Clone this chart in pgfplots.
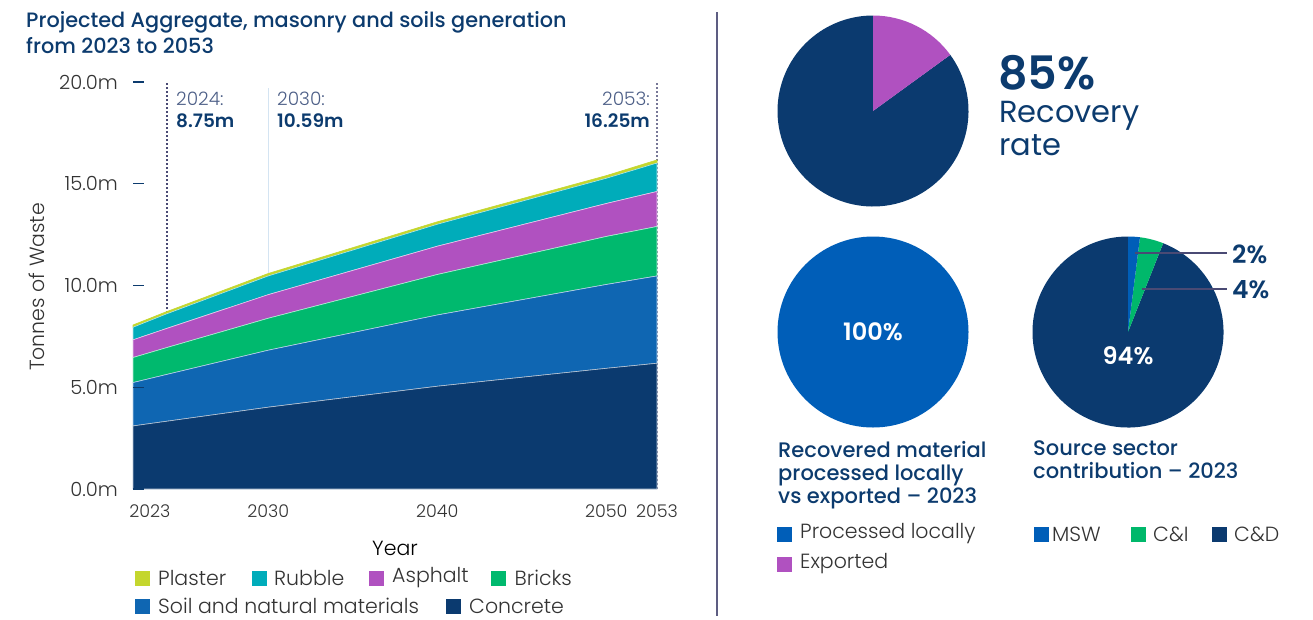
\documentclass[border=0pt]{standalone}
\usepackage{pgfplots}
\usepackage{pgfplotstable}
\pgfplotsset{compat=1.18}
\usepackage{fontspec}
\setmainfont{Poppins}
\newfontfamily\plight{Poppins Light}
\newfontfamily\pmed{Poppins Medium}
\newfontfamily\psemi{Poppins SemiBold}

\definecolor{cConcrete}{HTML}{0B3A6F}
\definecolor{cSoil}{HTML}{0F66B2}
\definecolor{cBricks}{HTML}{00B96E}
\definecolor{cAsphalt}{HTML}{B051C0}
\definecolor{cRubble}{HTML}{00ACBA}
\definecolor{cPlaster}{HTML}{C4D62E}
\definecolor{cNavy}{HTML}{0C3B6E}
\definecolor{cBlue}{HTML}{005EB8}
\definecolor{cGreen}{HTML}{00B86B}
\definecolor{cText}{HTML}{333333}
\definecolor{cSlate}{HTML}{4D5F87}
\definecolor{cDots}{HTML}{4A4A74}
\definecolor{cLineB}{HTML}{C6DBEE}
\definecolor{cDivider}{HTML}{5D5D82}

\pgfplotstableread{
year concrete soil bricks asphalt rubble plaster
2022 3.10 2.13 1.23 0.87 0.62 0.11
2024 3.33 2.30 1.32 0.94 0.72 0.11
2030 4.02 2.80 1.57 1.16 0.92 0.12
2040 5.05 3.50 1.99 1.39 1.08 0.12
2050 5.93 4.12 2.36 1.62 1.24 0.13
2053 6.18 4.29 2.43 1.72 1.40 0.15
}\wastedata

\newcommand{\lgfont}{\plight\fontsize{20.5}{23}\selectfont}
\newcommand{\tkfont}{\plight\fontsize{19.5}{22}\selectfont}
\newcommand{\ttlfont}{\pmed\fontsize{20.8}{24}\selectfont}

\begin{document}
\begin{tikzpicture}[x=1pt,y=1pt]
\useasboundingbox (0,0) rectangle (1313,-619);

% title
\node[anchor=west, inner sep=0, text=cNavy, font=\ttlfont] at (26,-22) {Projected Aggregate, masonry and soils generation};
\node[anchor=west, inner sep=0, text=cNavy, font=\ttlfont] at (26,-46) {from 2023 to 2053};

\begin{axis}[
  at={(133pt,-489pt)}, anchor=south west,
  scale only axis, width=524pt, height=407pt,
  xmin=2022, xmax=2053, ymin=0, ymax=20,
  stack plots=y,
  axis line style={draw=none},
  axis on top,
  tick align=inside,
  ytick pos=left, xtick pos=bottom,
  major tick length=11pt,
  ytick={0,5,10,15,20},
  yticklabels={0.0m,5.0m,10.0m,15.0m,20.0m},
  xtick={2023,2030,2040,2050,2053},
  xticklabels={2023,2030,2040,2050,2053},
  ytick style={draw=cNavy, line width=1.2pt},
  xtick style={draw=none},
  yticklabel style={font=\tkfont, text=cText, inner sep=0pt, anchor=east, xshift=-15pt},
  xticklabel style={font=\plight\fontsize{17.5}{20}\selectfont, text=cText, inner sep=0pt, anchor=north, yshift=-16pt},
  clip=false,
]
\addplot[fill=cConcrete, draw=white!70!cConcrete, line width=0.6pt, mark=none] table[x=year,y=concrete]{\wastedata} \closedcycle;
\addplot[fill=cSoil, draw=white!70!cSoil, line width=0.6pt, mark=none] table[x=year,y=soil]{\wastedata} \closedcycle;
\addplot[fill=cBricks, draw=white!70!cBricks, line width=0.6pt, mark=none] table[x=year,y=bricks]{\wastedata} \closedcycle;
\addplot[fill=cAsphalt, draw=white!70!cAsphalt, line width=0.6pt, mark=none] table[x=year,y=asphalt]{\wastedata} \closedcycle;
\addplot[fill=cRubble, draw=white!70!cRubble, line width=0.6pt, mark=none] table[x=year,y=rubble]{\wastedata} \closedcycle;
\addplot[fill=cPlaster, draw=cPlaster, line width=0.6pt, mark=none] table[x=year,y=plaster]{\wastedata} \closedcycle;
\draw[cDots, line width=1.7pt, dash pattern=on 2pt off 2pt] (axis cs:2024,0) -- (axis cs:2024,20);
\draw[cDots!75, line width=1.7pt, dash pattern=on 2pt off 2pt] (axis cs:2053,0) -- (axis cs:2053,20);
\draw[cLineB, line width=1.3pt, opacity=0.75] (axis cs:2030,0) -- (axis cs:2030,19.7);
\end{axis}

% annotations
\node[anchor=west, inner sep=0, text=cSlate, font=\plight\fontsize{18.5}{20}\selectfont] at (176,-99) {2024:};
\node[anchor=west, inner sep=0, text=cNavy, font=\psemi\fontsize{18.5}{20}\selectfont] at (176,-121) {8.75m};
\node[anchor=west, inner sep=0, text=cSlate, font=\plight\fontsize{18.5}{20}\selectfont] at (277,-99) {2030:};
\node[anchor=west, inner sep=0, text=cNavy, font=\psemi\fontsize{18.5}{20}\selectfont] at (277,-121) {10.59m};
\node[anchor=east, inner sep=0, text=cSlate, font=\plight\fontsize{18.5}{20}\selectfont] at (650,-99) {2053:};
\node[anchor=east, inner sep=0, text=cNavy, font=\psemi\fontsize{18.5}{20}\selectfont] at (650,-121) {16.25m};

% axis labels
\node[rotate=90, inner sep=0, text=cText, font=\lgfont] at (37,-287) {Tonnes of Waste};
\node[inner sep=0, text=black, font=\lgfont] at (395,-548) {Year};

% left legend
\foreach \cx/\tx/\cy/\col/\lab in {134.5/158/578/cPlaster/Plaster, 252/274/578/cRubble/Rubble, 368.5/392/578/cAsphalt/Asphalt, 491/514.5/578/cBricks/Bricks, 134.5/158/606/cSoil/Soil and natural materials, 445.5/469/606/cConcrete/Concrete}{
  \fill[\col] (\cx,-\cy+7.5) rectangle ++(15,-15);
  \node[anchor=west, inner sep=0, text=cText, font=\lgfont] at (\tx,-\cy) {\lab};
}

% divider
\draw[cDivider, line width=1.5pt] (717,-12) -- (717,-616);

% pie 1: recovery rate 85% / exported 15%
\fill[cConcrete] (873,-111) -- ++(36:95.5) arc[start angle=36, end angle=-270, radius=95.5] -- cycle;
\fill[cAsphalt] (873,-111) -- ++(36:95.5) arc[start angle=36, end angle=90, radius=95.5] -- cycle;
\node[anchor=west, inner sep=0, text height=33pt, text depth=0pt, text=cNavy, font=\psemi\fontsize{46}{50}\selectfont] at (998,-73) {85\%};
\node[anchor=west, inner sep=0, text height=21pt, text depth=7pt, text=cNavy, font=\fontsize{30.5}{33}\selectfont] at (999,-115) {Recovery};
\node[anchor=west, inner sep=0, text=cNavy, font=\fontsize{30.5}{33}\selectfont] at (999,-145) {rate};

% pie 2: processed locally 100%
\fill[cBlue] (873,-332) circle[radius=95.5];
\node[text=white, inner sep=0, font=\psemi\fontsize{24}{26}\selectfont] at (873,-332) {100\%};

% pie 3: MSW 2%, C&I 4%, C&D 94%
\fill[cConcrete] (1128,-332) -- ++(68.4:95.5) arc[start angle=68.4, end angle=-270, radius=95.5] -- cycle;
\fill[cGreen] (1128,-332) -- ++(68.4:95.5) arc[start angle=68.4, end angle=82.8, radius=95.5] -- cycle;
\fill[cBlue] (1128,-332) -- ++(82.8:95.5) arc[start angle=82.8, end angle=90, radius=95.5] -- cycle;
\node[text=white, inner sep=0, font=\psemi\fontsize{24}{26}\selectfont] at (1128,-356) {94\%};
\draw[cDots, line width=1.2pt] (1135,-253) -- (1227,-253);
\draw[cDots, line width=1.2pt] (1142,-289) -- (1227,-289);
\node[anchor=west, inner sep=0, text=cNavy, font=\psemi\fontsize{25}{27}\selectfont] at (1232,-254) {2\%};
\node[anchor=west, inner sep=0, text=cNavy, font=\psemi\fontsize{25}{27}\selectfont] at (1232,-290) {4\%};

% pie titles
\node[anchor=north west, inner sep=0, text=cNavy, font=\pmed\fontsize{21}{23}\selectfont, align=left] at (778,-441) {Recovered material\\processed locally\\vs exported – 2023};
\node[anchor=north west, inner sep=0, text=cNavy, font=\pmed\fontsize{21}{23}\selectfont, align=left] at (1033,-441) {Source sector\\contribution – 2023};

% right legends
\foreach \cx/\tx/\cy/\col/\lab in {777/800/534/cBlue/Processed locally, 777/800/564/cAsphalt/Exported, 1034/1052/534/cBlue/MSW, 1131/1153/534/cGreen/C\&I, 1212/1234/534/cConcrete/C\&D}{
  \fill[\col] (\cx,-\cy+7.5) rectangle ++(15,-15);
  \node[anchor=west, inner sep=0, text=cText, font=\lgfont] at (\tx,-\cy) {\lab};
}
\end{tikzpicture}
\end{document}
